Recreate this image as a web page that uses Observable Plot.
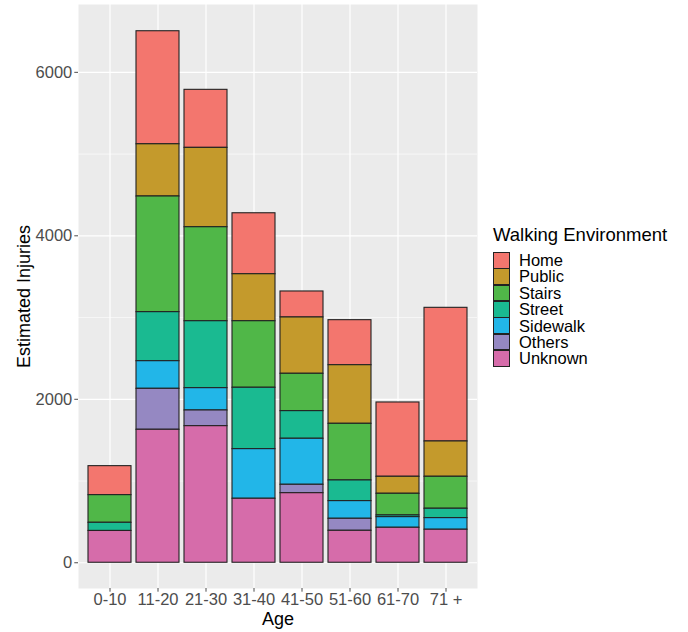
<!DOCTYPE html>
<html>
<head>
<meta charset="utf-8">
<script src="https://cdn.jsdelivr.net/npm/d3@7"></script>
<script src="https://cdn.jsdelivr.net/npm/@observablehq/plot@0.6"></script>
<style>
  html, body { margin: 0; padding: 0; background: #fff; }
  #wrap { position: relative; width: 688px; height: 632px; font-family: "Liberation Sans", Arial, sans-serif; }
  #legend { position: absolute; left: 493px; top: 224px; color: #000; }
  #legend .title { font-size: 18.5px; line-height: 22px; margin-bottom: 6px; white-space: nowrap; }
  #legend .row { display: flex; align-items: center; height: 16.4px; }
  #legend .key { width: 15px; height: 14.6px; border: 0.9px solid #222; margin-right: 9px; }
  #legend .lab { font-size: 16.5px; line-height: 16.4px; }
</style>
</head>
<body>
<div id="wrap"><div id="chart"></div><div id="legend"></div></div>
<script>
const ages = ["0-10", "11-20", "21-30", "31-40", "41-50", "51-60", "61-70", "71 +"];
const seriesNames = ["Home", "Public", "Stairs", "Street", "Sidewalk", "Others", "Unknown"];
const seriesColors = ["#F3766E", "#C49A2C", "#50B748", "#1ABA91", "#22B6E8", "#9588C2", "#D66CAA"];
const home     = [355, 1383, 710, 746, 318, 551, 909, 1635];
const publicV  = [0, 639, 971, 575, 689, 717, 208, 432];
const stairs   = [338, 1415, 1150, 814, 457, 693, 265, 391];
const street   = [100, 600, 819, 751, 338, 253, 21, 115];
const sidewalk = [0, 338, 273, 607, 563, 216, 130, 142];
const others   = [0, 501, 192, 0, 103, 147, 0, 0];
const unknown  = [389, 1627, 1671, 783, 851, 391, 428, 404];
const yTicks = [0, 2000, 4000, 6000];
const yMinor = [1000, 3000, 5000];

const seriesValues = [home, publicV, stairs, street, sidewalk, others, unknown];
const table = [];
ages.forEach((age, i) => {
  seriesNames.forEach((name, j) => {
    const v = seriesValues[j][i];
    if (v > 0) table.push({age, env: name, value: v});
  });
});
const stackOrder = seriesNames.slice().reverse();

const font = '"Liberation Sans", Arial, sans-serif';
const chart = Plot.plot({
  width: 688,
  height: 632,
  marginLeft: 78,
  marginRight: 211,
  marginTop: 4,
  marginBottom: 44,
  style: {fontFamily: font, background: "transparent"},
  x: {domain: ages, paddingInner: 0.1, paddingOuter: 0.15, label: null},
  y: {domain: [-315, 6830], label: null},
  color: {domain: seriesNames, range: seriesColors},
  marks: [
    Plot.frame({fill: "#EBEBEB", stroke: "none"}),
    Plot.gridY(yMinor, {stroke: "#fff", strokeOpacity: 1, strokeWidth: 0.6}),
    Plot.gridY(yTicks, {stroke: "#fff", strokeOpacity: 1, strokeWidth: 1.2}),
    Plot.gridX({stroke: "#fff", strokeOpacity: 1, strokeWidth: 1.2}),
    Plot.barY(table, Plot.stackY({
      x: "age", y: "value", fill: "env", order: stackOrder,
      stroke: "#222", strokeWidth: 1.1
    })),
    Plot.axisY(yTicks, {tickSize: 3.7, tickPadding: 2.5, tickFormat: "d", fontSize: 16.5, color: "#4D4D4D", label: null}),
    Plot.axisX({tickSize: 3.7, tickPadding: 1, fontSize: 16.5, color: "#4D4D4D", label: null}),
    Plot.text(["Age"], {frameAnchor: "bottom", dy: 36, fontSize: 18, fill: "#000"}),
    Plot.text(["Estimated Injuries"], {frameAnchor: "left", textAnchor: "middle", dx: -54, rotate: -90, fontSize: 18, fill: "#000"})
  ]
});
document.getElementById("chart").appendChild(chart);

const legend = d3.select("#legend");
legend.append("div").attr("class", "title").text("Walking Environment");
seriesNames.forEach((name, j) => {
  const row = legend.append("div").attr("class", "row");
  row.append("div").attr("class", "key").style("background", seriesColors[j]);
  row.append("div").attr("class", "lab").text(name);
});
</script>
</body>
</html>
